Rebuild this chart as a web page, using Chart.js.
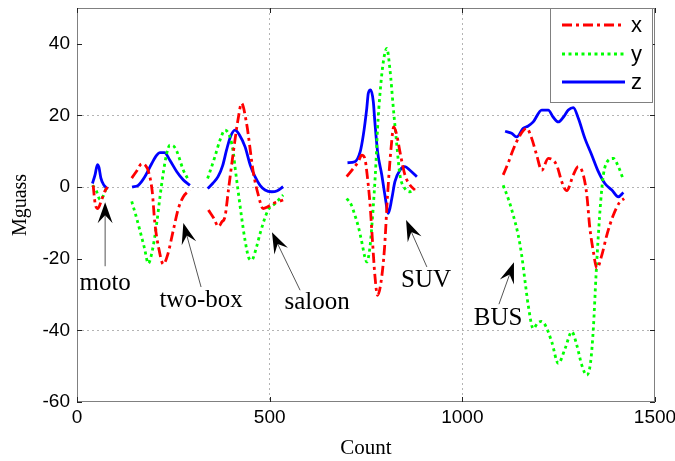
<!DOCTYPE html>
<html><head><meta charset="utf-8">
<script src="https://cdn.jsdelivr.net/npm/chart.js@4.4.0/dist/chart.umd.min.js"></script>
<style>html,body{margin:0;padding:0;background:#fff}</style>
</head><body>
<canvas id="c" width="675" height="461"></canvas>
<script>
const seriesNames = ['x', 'y', 'z'];
const xTicks = [0, 500, 1000, 1500];
const yTicks = [-60, -40, -20, 0, 20, 40];
const gridYShown = [20, 0, -40];
const gridXShown = [500, 1000];

// red "x" series (null value = gap between vehicles)
const xCount = [42,47,54,64,73,79, 110,
  142,155,168,178,185,195,202,212,224,235,250,263,276,293, 316,
  341,355,367,376,384,393,406,419,427,440,458,470,483,495,509,535, 620,
  700,717,730,739,747,753,760,767,773,780,789,798,806,815,822,830,838,851,864,877, 1000,
  1106,1120,1132,1150,1167,1180,1193,1206,1223,1245,1258,1271,1288,1301,1314,1323,1331,1340,1349,1362,1375,1392,1409,1420];
const xValue = [0.5,-4.5,-6,-3.5,-1,0, null,
  2.5,4.5,6.5,6,4.5,-1,-10,-17,-21.5,-19,-12,-6,-2.7,-0.8, null,
  -6.4,-8.7,-11,-9.7,-8.3,-0.8,10,19.6,23.4,17.8,3.8,-2,-6,-5.5,-4.6,-3.6, null,
  2.9,5.2,7.1,8.9,8,3.4,-4.1,-15.3,-24.6,-30.2,-26.5,-17.1,-2.2,10.8,16.8,14.5,9.9,3.4,0.6,-0.8, null,
  3.4,7,10.5,14.5,16.4,13.6,8.9,4.7,8,6.1,1.5,-1,3.4,5.7,3.4,-2.2,-11.5,-18,-22.7,-19,-13.4,-7.8,-4.1,-3.2];

// green "y" series
const yCount = [40,50,60,68,77, 110,
  142,153,163,175,185,195,207,215,224,232,241,250,259,275,289, 316,
  339,358,371,384,397,406,410,419,427,436,445,453,466,475,496,514,535, 620,
  700,712,721,730,739,747,752,760,766,772,776,780,786,795,804,812,821,830,838,851,864,877, 1000,
  1106,1120,1132,1145,1154,1163,1171,1184,1195,1205,1215,1232,1249,1267,1284,1297,1310,1323,1333,1340,1347,1353,1359,1366,1379,1392,1405,1418];
const yValue = [0.5,-1,-3.5,-2.5,0, null,
  -4,-8,-12,-17,-21.3,-18,-10,-3,4,9,11.7,11.5,10,5,2, null,
  2.4,8.5,13.1,15.9,14,9.4,5.7,-1.8,-8.3,-14.8,-19.5,-20.4,-16.7,-13,-6.4,-4.6,-2.2, null,
  -3.2,-5,-7.8,-11,-15.3,-19.5,-20.9,-17,-9.7,-0.4,7.1,16.4,25.7,35,38.7,33,22,11.7,3.4,-0.4,-1.3,-0.8, null,
  0.5,-3.5,-7.8,-13.4,-19,-26.5,-33,-39.5,-38,-37.5,-38.5,-43.2,-49.2,-45,-40.4,-44.1,-49.7,-52.5,-48.8,-39.5,-24.6,-13.4,-4.1,3.4,7.5,8,5.7,2];

// blue "z" series
const zCount = [40,47,53,57,62,70,80, 110,
  143,159,176,194,207,215,227,241,259,276,293, 316,
  339,352,366,378,388,398,410,422,436,450,462,475,488,505,520,535, 620,
  702,721,735,743,752,756,762,769,773,780,791,799,808,817,825,838,851,864,882, 1000,
  1111,1128,1141,1158,1170,1184,1206,1223,1236,1249,1262,1275,1288,1301,1318,1336,1353,1370,1388,1405,1418];
const zValue = [1,3.5,6.3,5.5,2.5,0.5,-0.5, null,
  0,0.5,2.9,6.6,8.9,9.6,9.6,7.5,4.3,2,0.5, null,
  -0.4,1,2.9,6,10.3,14,15.9,14.5,11.3,6,2.9,0.5,-0.8,-1.3,-1,0.1, null,
  6.8,7.1,9.9,14.5,22,26.2,27.1,23.8,18.2,9.9,3.4,-2.2,-7.3,-3.2,1.5,4.7,5.7,4.7,2.9, null,
  15.6,15,14,16.4,17,18.2,21.5,21.5,19.5,18.2,19.5,21.5,22.2,19.2,13.6,8.9,4.3,1,-0.8,-2.7,-1.5];

// annotations
const vehicles = ['moto', 'two-box', 'saloon', 'SUV', 'BUS'];
const labelCount = [73, 322, 623, 906, 1093];
const labelValue = [-26.8, -31.6, -32.1, -26, -36.6];
const arrowTipCount = [73, 276, 506, 854, 1134];
const arrowTipValue = [-4.2, -10, -12.6, -9.2, -21];
const arrowTailCount = [73, 322, 579, 908, 1095];
const arrowTailValue = [-22.1, -27.9, -28.8, -22.3, -32.7];

const colors = ['#ff0000', '#00ff00', '#0000ff'];
const dashes = [[10, 4, 3, 4], [3, 3.5], []];

function pts(c, v) { return c.map((cc, i) => ({ x: cc, y: v[i] })); }

const overlay = {
  id: 'overlay',
  afterDraw(chart) {
    const { ctx, chartArea: a, scales: { x, y } } = chart;
    ctx.save();
    ctx.setLineDash([]);
    // frame
    ctx.strokeStyle = '#808080'; ctx.lineWidth = 1;
    ctx.strokeRect(a.left + 0.5, a.top + 0.5, a.right - a.left - 1, a.bottom - a.top - 1);
    // inward ticks
    ctx.strokeStyle = '#222';
    ctx.beginPath();
    yTicks.forEach(v => {
      const py = Math.round(y.getPixelForValue(v)) + 0.5;
      ctx.moveTo(a.left, py); ctx.lineTo(a.left + 5, py);
      ctx.moveTo(a.right, py); ctx.lineTo(a.right - 5, py);
    });
    xTicks.forEach(v => {
      const px = Math.round(x.getPixelForValue(v)) + 0.5;
      ctx.moveTo(px, a.bottom); ctx.lineTo(px, a.bottom - 5);
      ctx.moveTo(px, a.top); ctx.lineTo(px, a.top + 5);
    });
    ctx.stroke();

    // arrows
    vehicles.forEach((name, i) => {
      const tx = x.getPixelForValue(arrowTipCount[i]), ty = y.getPixelForValue(arrowTipValue[i]);
      const fx = x.getPixelForValue(arrowTailCount[i]), fy = y.getPixelForValue(arrowTailValue[i]);
      const ang = Math.atan2(ty - fy, tx - fx);
      const dx = Math.cos(ang), dy = Math.sin(ang);
      const L = 21, W = 7.5;
      ctx.strokeStyle = '#555'; ctx.lineWidth = 1;
      ctx.beginPath(); ctx.moveTo(fx, fy); ctx.lineTo(tx - dx * L * 0.6, ty - dy * L * 0.6); ctx.stroke();
      ctx.fillStyle = '#000';
      ctx.beginPath();
      ctx.moveTo(tx, ty);
      ctx.lineTo(tx - dx * L - dy * W, ty - dy * L + dx * W);
      ctx.lineTo(tx - dx * L * 0.62, ty - dy * L * 0.62);
      ctx.lineTo(tx - dx * L + dy * W, ty - dy * L - dx * W);
      ctx.closePath(); ctx.fill();
    });
    // labels
    ctx.fillStyle = '#000';
    ctx.font = '25px "Liberation Serif", "Times New Roman", serif';
    ctx.textAlign = 'center'; ctx.textBaseline = 'middle';
    vehicles.forEach((name, i) => {
      ctx.fillText(name, x.getPixelForValue(labelCount[i]), y.getPixelForValue(labelValue[i]));
    });

    // legend
    const bx = a.right - 105, by = a.top, bw = 102, bh = 94;
    ctx.fillStyle = '#fff';
    ctx.fillRect(bx, by, bw, bh);
    ctx.strokeStyle = '#808080'; ctx.lineWidth = 1;
    ctx.strokeRect(bx + 0.5, by + 0.5, bw, bh);
    ctx.font = '22px "Liberation Sans", Arial, sans-serif';
    ctx.textAlign = 'left'; ctx.textBaseline = 'middle';
    const rowY = [17, 46, 74];
    seriesNames.forEach((n, i) => {
      const ly = by + rowY[i];
      ctx.strokeStyle = colors[i]; ctx.lineWidth = 2.8;
      ctx.setLineDash(dashes[i]);
      ctx.beginPath(); ctx.moveTo(bx + 12, ly); ctx.lineTo(bx + 75, ly); ctx.stroke();
      ctx.setLineDash([]);
      ctx.fillStyle = '#000';
      ctx.fillText(n, bx + 81, ly + 1);
    });
    ctx.restore();
  }
};

const gridStyle = (shown) => ({
  drawTicks: false,
  lineWidth: 1,
  color: (c) => (c.tick && shown.includes(c.tick.value)) ? '#b4b4b4' : 'rgba(0,0,0,0)'
});

new Chart(document.getElementById('c'), {
  type: 'line',
  data: {
    datasets: [
      { label: seriesNames[0], data: pts(xCount, xValue), borderColor: colors[0], borderDash: dashes[0] },
      { label: seriesNames[1], data: pts(yCount, yValue), borderColor: colors[1], borderDash: dashes[1] },
      { label: seriesNames[2], data: pts(zCount, zValue), borderColor: colors[2], borderDash: dashes[2] }
    ]
  },
  options: {
    responsive: false,
    animation: false,
    devicePixelRatio: 1,
    spanGaps: false,
    elements: {
      point: { radius: 0 },
      line: { borderWidth: 2.8, cubicInterpolationMode: 'monotone', fill: false }
    },
    layout: { padding: { left: 0, right: 20, top: 8, bottom: 0 } },
    plugins: { legend: { display: false }, tooltip: { enabled: false } },
    scales: {
      x: {
        type: 'linear', min: 0, max: 1500,
        afterBuildTicks: (s) => { s.ticks = xTicks.map(v => ({ value: v })); },
        afterFit: (s) => { s.height = 59; s.paddingLeft = 0; s.paddingRight = 0; },
        grid: gridStyle(gridXShown),
        border: { display: false, dash: [2, 3] },
        ticks: { padding: 4, color: '#000', callback: (v) => String(v),
          font: { family: '"Liberation Sans", Arial, sans-serif', size: 19 } },
        title: { display: true, text: 'Count', color: '#000', padding: { top: 0, bottom: 0 },
          font: { family: '"Liberation Serif", "Times New Roman", serif', size: 21 } }
      },
      y: {
        type: 'linear', min: -60, max: 50,
        afterBuildTicks: (s) => { s.ticks = yTicks.map(v => ({ value: v })); },
        afterFit: (s) => { s.width = 77; s.paddingTop = 0; s.paddingBottom = 0; },
        grid: gridStyle(gridYShown),
        border: { display: false, dash: [2, 3] },
        ticks: { padding: 7, color: '#000', callback: (v) => String(v),
          font: { family: '"Liberation Sans", Arial, sans-serif', size: 19 } },
        title: { display: true, text: 'Mguass', color: '#000', padding: { top: 9, bottom: 0 },
          font: { family: '"Liberation Serif", "Times New Roman", serif', size: 20 } }
      }
    }
  },
  plugins: [overlay]
});
</script>
</body></html>
